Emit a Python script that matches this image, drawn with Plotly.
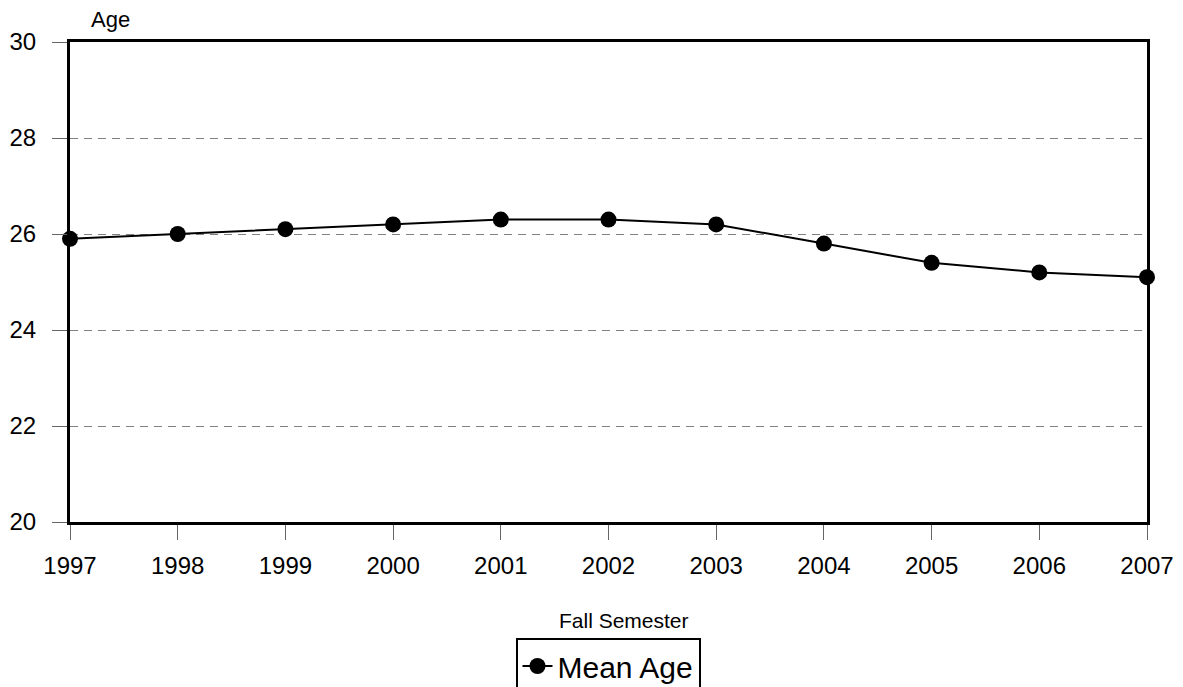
import plotly.graph_objects as go

years = [1997, 1998, 1999, 2000, 2001, 2002, 2003, 2004, 2005, 2006, 2007]
mean_age = [25.9, 26.0, 26.1, 26.2, 26.3, 26.3, 26.2, 25.8, 25.4, 25.2, 25.1]
y_ticks = [20, 22, 24, 26, 28, 30]

FONT = "Liberation Sans, Arial, sans-serif"
W, H = 1183, 687
L, R, T, B = 70, 36, 42, 165
PW, PH = W - L - R, H - T - B

def px_x(px):
    return (px - L) / PW

def px_y(py):
    return (H - B - py) / PH

fig = go.Figure()
fig.add_trace(go.Scatter(
    x=years, y=mean_age, mode="lines+markers", name="Mean Age",
    line=dict(color="black", width=2),
    marker=dict(color="black", size=16),
    cliponaxis=False,
))

fig.update_layout(
    width=W, height=H,
    margin=dict(l=L, r=R, t=T, b=B, autoexpand=False),
    paper_bgcolor="white", plot_bgcolor="white",
    font=dict(family=FONT, size=24, color="black"),
    showlegend=True,
    legend=dict(
        xref="container", yref="container",
        x=608 / W, xanchor="center", y=1 - 638 / H, yanchor="top",
        orientation="h", bordercolor="black", borderwidth=2,
        font=dict(size=30), bgcolor="white",
    ),
    xaxis=dict(
        range=[1997, 2007], tickmode="array", tickvals=years,
        ticktext=[str(y) for y in years],
        ticks="outside", ticklen=15, tickcolor="#666", tickwidth=1,
        ticklabelstandoff=5,
        showgrid=False, zeroline=False, automargin=False,
        showline=True, linecolor="black", linewidth=3, mirror=True,
    ),
    yaxis=dict(
        range=[20, 30], tickmode="array", tickvals=y_ticks,
        ticks="outside", ticklen=15, tickcolor="#666", tickwidth=1,
        ticklabelstandoff=11,
        showgrid=True, gridcolor="#808080", griddash="8px,6px", gridwidth=1,
        zeroline=False, automargin=False,
        showline=True, linecolor="black", linewidth=3, mirror=True,
    ),
    annotations=[
        dict(text="Fall Semester", x=px_x(691), xref="paper", y=px_y(620), yref="paper",
             showarrow=False, yanchor="middle", xanchor="right", font=dict(size=21)),
        dict(text="Age", x=px_x(110), xref="paper", y=px_y(20), yref="paper",
             showarrow=False, yanchor="middle", xanchor="center", font=dict(size=22)),
    ],
)

fig.write_html(
    "out.html",
    config={"displayModeBar": False},
    post_script="document.body.style.margin='0';document.body.style.padding='0';",
)
